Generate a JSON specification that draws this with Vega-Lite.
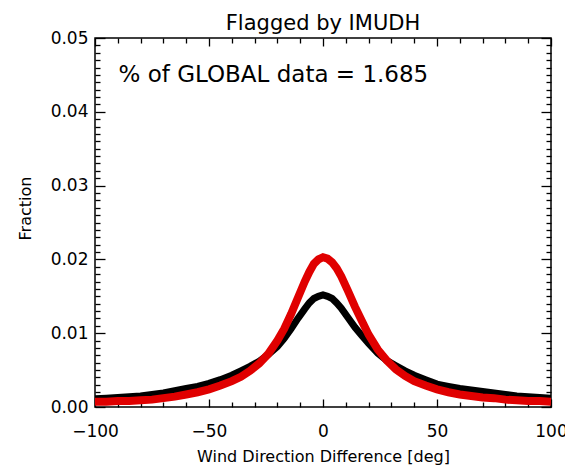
{
  "$schema": "https://vega.github.io/schema/vega-lite/v6.json",
  "width": 456,
  "height": 369,
  "autosize": "none",
  "padding": {"left": 95, "top": 38, "right": 14, "bottom": 60},
  "background": "white",
  "title": {"text": "Flagged by IMUDH", "fontSize": 21, "fontWeight": "normal", "font": "DejaVu Sans", "color": "#000", "offset": 8, "baseline": "alphabetic", "dy": 30},
  "datasets": {
    "black": [
      {"x": -100, "y": 0.0011}, {"x": -95, "y": 0.0012}, {"x": -90, "y": 0.0013}, {"x": -85, "y": 0.0014},
      {"x": -80, "y": 0.0015}, {"x": -75, "y": 0.0017}, {"x": -70, "y": 0.0019}, {"x": -65, "y": 0.0022},
      {"x": -60, "y": 0.0025}, {"x": -55, "y": 0.0028}, {"x": -50, "y": 0.0032}, {"x": -45, "y": 0.0037},
      {"x": -40, "y": 0.0043}, {"x": -36, "y": 0.0049}, {"x": -32, "y": 0.0055}, {"x": -28, "y": 0.0062},
      {"x": -24, "y": 0.0071}, {"x": -20, "y": 0.0082}, {"x": -17, "y": 0.0093}, {"x": -14, "y": 0.0106},
      {"x": -11, "y": 0.012}, {"x": -8, "y": 0.0133}, {"x": -6, "y": 0.0141}, {"x": -4, "y": 0.0147},
      {"x": -2, "y": 0.015}, {"x": 0, "y": 0.0152}, {"x": 2, "y": 0.015}, {"x": 4, "y": 0.0147},
      {"x": 6, "y": 0.0141}, {"x": 8, "y": 0.0134}, {"x": 11, "y": 0.0121}, {"x": 14, "y": 0.0108},
      {"x": 17, "y": 0.0097}, {"x": 20, "y": 0.0086}, {"x": 24, "y": 0.0073}, {"x": 28, "y": 0.0063},
      {"x": 32, "y": 0.0056}, {"x": 36, "y": 0.0049}, {"x": 40, "y": 0.0043}, {"x": 45, "y": 0.0037},
      {"x": 50, "y": 0.0031}, {"x": 55, "y": 0.0028}, {"x": 60, "y": 0.0025}, {"x": 65, "y": 0.0023},
      {"x": 70, "y": 0.0021}, {"x": 75, "y": 0.0019}, {"x": 80, "y": 0.0017}, {"x": 85, "y": 0.0015},
      {"x": 90, "y": 0.0014}, {"x": 95, "y": 0.0013}, {"x": 100, "y": 0.0012}
    ],
    "red": [
      {"x": -100, "y": 0.0007}, {"x": -95, "y": 0.0007}, {"x": -90, "y": 0.0008}, {"x": -85, "y": 0.0008},
      {"x": -80, "y": 0.0009}, {"x": -75, "y": 0.001}, {"x": -70, "y": 0.0012}, {"x": -65, "y": 0.0014},
      {"x": -60, "y": 0.0017}, {"x": -55, "y": 0.002}, {"x": -50, "y": 0.0024}, {"x": -45, "y": 0.0029},
      {"x": -40, "y": 0.0035}, {"x": -36, "y": 0.0041}, {"x": -32, "y": 0.0049}, {"x": -28, "y": 0.0059},
      {"x": -24, "y": 0.0072}, {"x": -20, "y": 0.009}, {"x": -17, "y": 0.0106}, {"x": -14, "y": 0.0126},
      {"x": -11, "y": 0.0148}, {"x": -8, "y": 0.017}, {"x": -6, "y": 0.0183}, {"x": -4, "y": 0.0194},
      {"x": -2, "y": 0.02}, {"x": 0, "y": 0.0203}, {"x": 2, "y": 0.0201}, {"x": 4, "y": 0.0196},
      {"x": 6, "y": 0.0188}, {"x": 8, "y": 0.0177}, {"x": 11, "y": 0.0157}, {"x": 14, "y": 0.0136},
      {"x": 17, "y": 0.0117}, {"x": 20, "y": 0.0098}, {"x": 24, "y": 0.0078}, {"x": 28, "y": 0.0063},
      {"x": 32, "y": 0.0051}, {"x": 36, "y": 0.0042}, {"x": 40, "y": 0.0035}, {"x": 45, "y": 0.0029},
      {"x": 50, "y": 0.0024}, {"x": 55, "y": 0.002}, {"x": 60, "y": 0.0017}, {"x": 65, "y": 0.0015},
      {"x": 70, "y": 0.0013}, {"x": 75, "y": 0.0012}, {"x": 80, "y": 0.001}, {"x": 85, "y": 0.0009},
      {"x": 90, "y": 0.0008}, {"x": 95, "y": 0.0008}, {"x": 100, "y": 0.0007}
    ],
    "note": [
      {"x": -89.7, "y": 0.0440, "label": "% of GLOBAL data = 1.685"}
    ]
  },
  "resolve": {"axis": {"x": "independent", "y": "independent"}},
  "layer": [
    {
      "data": {"name": "black"},
      "mark": {"type": "line", "color": "#000000", "strokeWidth": 7, "clip": true},
      "encoding": {
        "x": {"field": "x", "type": "quantitative", "scale": {"domain": [-100, 100], "nice": false, "zero": false},
          "axis": {"orient": "bottom", "values": [-100, -50, 0, 50, 100], "tickSize": -8, "labelPadding": 24, "labelFontSize": 17, "labelFlush": false, "labelOverlap": false, "title": "Wind Direction Difference [deg]", "titleFontSize": 16, "titleFontWeight": "normal", "titlePadding": 9}},
        "y": {"field": "y", "type": "quantitative", "scale": {"domain": [0, 0.05], "nice": false},
          "axis": {"orient": "left", "values": [0, 0.01, 0.02, 0.03, 0.04, 0.05], "format": ".2f", "tickSize": -10, "labelPadding": 17, "labelFontSize": 17, "labelOverlap": false, "title": "Fraction", "titleFontSize": 16, "titleFontWeight": "normal", "titlePadding": 17, "titleY": 170}}
      }
    },
    {
      "data": {"name": "red"},
      "mark": {"type": "line", "color": "#e00000", "strokeWidth": 8, "clip": true},
      "encoding": {
        "x": {"field": "x", "type": "quantitative", "scale": {"domain": [-100, 100], "nice": false, "zero": false},
          "axis": {"orient": "bottom", "values": [-90, -80, -70, -60, -40, -30, -20, -10, 10, 20, 30, 40, 60, 70, 80, 90], "tickSize": -5, "labels": false, "title": null}},
        "y": {"field": "y", "type": "quantitative", "scale": {"domain": [0, 0.05], "nice": false},
          "axis": {"orient": "left", "values": [0.001, 0.002, 0.003, 0.004, 0.005, 0.006, 0.007, 0.008, 0.009, 0.011, 0.012, 0.013, 0.014, 0.015, 0.016, 0.017, 0.018, 0.019, 0.021, 0.022, 0.023, 0.024, 0.025, 0.026, 0.027, 0.028, 0.029, 0.031, 0.032, 0.033, 0.034, 0.035, 0.036, 0.037, 0.038, 0.039, 0.041, 0.042, 0.043, 0.044, 0.045, 0.046, 0.047, 0.048, 0.049], "tickSize": -5, "labels": false, "title": null}}
      }
    },
    {
      "data": {"name": "note"},
      "mark": {"type": "text", "align": "left", "baseline": "alphabetic", "fontSize": 23, "font": "DejaVu Sans", "color": "#000"},
      "encoding": {
        "text": {"field": "label"},
        "x": {"field": "x", "type": "quantitative", "scale": {"domain": [-100, 100], "nice": false, "zero": false},
          "axis": {"orient": "top", "values": [-100, -50, 0, 50, 100], "tickSize": -8, "labels": false, "title": null}},
        "y": {"field": "y", "type": "quantitative", "scale": {"domain": [0, 0.05], "nice": false},
          "axis": {"orient": "right", "values": [0, 0.01, 0.02, 0.03, 0.04, 0.05], "tickSize": -10, "labels": false, "title": null}}
      }
    },
    {
      "data": {"name": "note"},
      "mark": {"type": "point", "opacity": 0},
      "encoding": {
        "x": {"field": "x", "type": "quantitative", "scale": {"domain": [-100, 100], "nice": false, "zero": false},
          "axis": {"orient": "top", "values": [-90, -80, -70, -60, -40, -30, -20, -10, 10, 20, 30, 40, 60, 70, 80, 90], "tickSize": -5, "labels": false, "title": null}},
        "y": {"field": "y", "type": "quantitative", "scale": {"domain": [0, 0.05], "nice": false},
          "axis": {"orient": "right", "values": [0.001, 0.002, 0.003, 0.004, 0.005, 0.006, 0.007, 0.008, 0.009, 0.011, 0.012, 0.013, 0.014, 0.015, 0.016, 0.017, 0.018, 0.019, 0.021, 0.022, 0.023, 0.024, 0.025, 0.026, 0.027, 0.028, 0.029, 0.031, 0.032, 0.033, 0.034, 0.035, 0.036, 0.037, 0.038, 0.039, 0.041, 0.042, 0.043, 0.044, 0.045, 0.046, 0.047, 0.048, 0.049], "tickSize": -5, "labels": false, "title": null}}
      }
    }
  ],
  "config": {
    "font": "DejaVu Sans",
    "view": {"stroke": "#000", "strokeWidth": 1.5},
    "axis": {"grid": false, "domain": false, "labelColor": "#000", "tickColor": "#000", "titleColor": "#000", "tickWidth": 1.3, "labelFont": "DejaVu Sans", "titleFont": "DejaVu Sans"}
  }
}
